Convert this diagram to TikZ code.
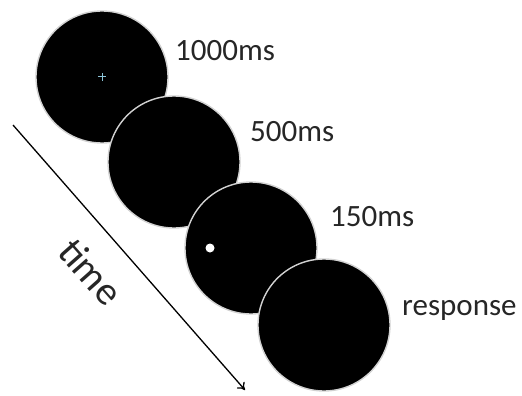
\documentclass[tikz,border=0pt]{standalone}
\usepackage{fontspec}
\setmainfont{Carlito}
\usetikzlibrary{arrows.meta}
\definecolor{crosscol}{HTML}{8CC4D8}
\tikzset{
  screen/.style={circle, fill=black, draw=gray!35, line width=1.4pt, minimum size=132pt, inner sep=0pt},
  lbl/.style={font=\fontsize{31pt}{36pt}\selectfont, anchor=base west, inner sep=0pt, text=black!85},
  timearrow/.style={line width=1.3pt, -{To[length=7pt,width=10pt,line width=1.3pt]}}
}
\begin{document}
\begin{tikzpicture}[x=1pt,y=-1pt]
\useasboundingbox (0,0) rectangle (522,396);
\node[screen] (s1) at (102,77) {};
\node[screen] (s2) at (174,162) {};
\node[screen] (s3) at (251,248) {};
\node[screen] (s4) at (324,325) {};
% fixation cross
\draw[crosscol, line width=1pt] ([xshift=-4pt]s1.center) -- ([xshift=4pt]s1.center)
  ([yshift=-4pt]s1.center) -- ([yshift=4pt]s1.center);
% target dot
\node[circle, fill=white, minimum size=9pt, inner sep=0pt] (dot) at (210,248) {};
% labels
\node[lbl] (l1) at (175,60) {1000ms};
\node[lbl] (l2) at (250,141) {500ms};
\node[lbl] (l3) at (330,226) {150ms};
\node[lbl] (l4) at (402,315) {response};
% time arrow
\coordinate (ta) at (13,125);
\coordinate (tb) at (245,390);
\draw[timearrow] (ta) -- (tb);
\node[font=\fontsize{40pt}{44pt}\selectfont, rotate=-48.5, text=black!85, inner sep=0pt] (time) at (91,272) {time};
\end{tikzpicture}
\end{document}
